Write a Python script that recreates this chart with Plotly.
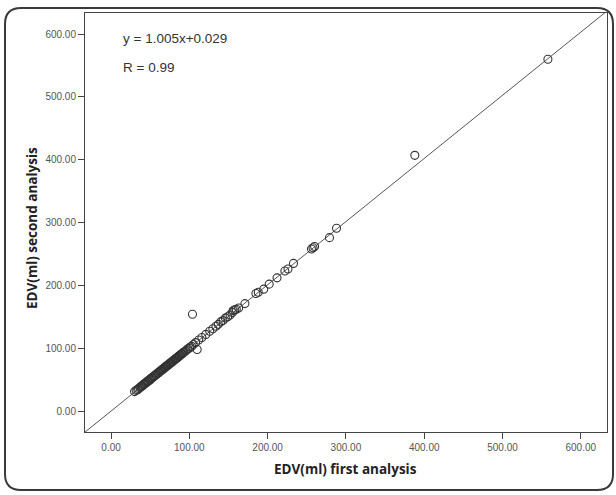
import plotly.graph_objects as go

# EDV measured twice (ml)
edv_first = [30, 32, 34, 35, 37, 38, 39, 40, 41, 42, 43, 44, 45, 46, 47, 48, 49, 50,
             51, 52, 53, 54, 55, 56, 57, 58, 59, 60, 61, 62, 63, 64, 65, 66, 67, 68,
             69, 70, 71, 72, 73, 74, 75, 76, 77, 78, 79, 80, 81, 82, 83, 84, 85, 86,
             87, 88, 89, 90, 91, 92, 93, 95, 96, 98, 100, 101, 103, 105, 108, 110,
             104, 112, 116, 121, 126, 130, 134, 137, 140, 143, 146, 149, 152, 155,
             156, 158, 160, 163, 171, 185, 188, 195, 202, 212, 222, 226, 233, 256,
             258, 260, 279, 288, 388, 558]
edv_second = [31, 33, 34, 36, 37, 39, 40, 40, 42, 43, 43, 45, 45, 47, 48, 48, 50, 50,
              52, 53, 53, 55, 56, 56, 58, 58, 60, 61, 61, 63, 64, 64, 66, 67, 67, 69,
              70, 70, 72, 73, 73, 75, 76, 76, 78, 79, 79, 81, 82, 82, 84, 85, 85, 87,
              88, 88, 90, 91, 91, 93, 94, 95, 97, 99, 100, 102, 103, 106, 109, 98,
              154, 113, 117, 122, 127, 131, 135, 138, 142, 144, 148, 150, 153, 157,
              160, 161, 162, 164, 171, 187, 189, 194, 202, 212, 223, 226, 235, 258,
              260, 262, 276, 291, 407, 560]

# regression line
slope = 1.005
intercept = 0.029
r_value = 0.99

tick_vals = [0, 100, 200, 300, 400, 500, 600]
tick_text = ["0.00", "100.00", "200.00", "300.00", "400.00", "500.00", "600.00"]

axis_range = [-33.3, 633.5]

W, H = 616, 495
ML, MR, MT, MB = 85, 9, 13, 63
PW, PH = W - ML - MR, H - MT - MB


def px(x):
    return (x - ML) / PW


def py(y):
    return (H - MB - y) / PH


fig = go.Figure()

line_x = list(axis_range)
line_y = [slope * v + intercept for v in line_x]
fig.add_trace(go.Scatter(
    x=line_x, y=line_y, mode="lines",
    line=dict(color="#555555", width=1), hoverinfo="skip", showlegend=False))

fig.add_trace(go.Scatter(
    x=edv_first, y=edv_second, mode="markers",
    marker=dict(symbol="circle-open", size=8, color="#333333",
                line=dict(width=1.1, color="#333333")),
    showlegend=False))

axis_common = dict(
    range=axis_range,
    tickvals=tick_vals, ticktext=tick_text,
    tickfont=dict(family="Liberation Sans, Arial", size=10, color="#555555"),
    ticks="outside", ticklen=6, tickcolor="#444444", tickwidth=1,
    showgrid=False, zeroline=False, showline=True, linecolor="#444444",
    linewidth=1, mirror=True,
)
fig.update_xaxes(**axis_common)
fig.update_yaxes(**axis_common)

# rounded outer frame
x0, x1 = px(5), px(613)
y0, y1 = py(490), py(8)
rx, ry = 16 / PW, 16 / PH
frame = (f"M {x0 + rx},{y1} L {x1 - rx},{y1} Q {x1},{y1} {x1},{y1 - ry} "
         f"L {x1},{y0 + ry} Q {x1},{y0} {x1 - rx},{y0} "
         f"L {x0 + rx},{y0} Q {x0},{y0} {x0},{y0 + ry} "
         f"L {x0},{y1 - ry} Q {x0},{y1} {x0 + rx},{y1} Z")
fig.add_shape(type="path", path=frame, xref="paper", yref="paper",
              line=dict(color="#3a3a3a", width=2), layer="below")

title_font = dict(family="Open Sans", size=13.5, color="#222222")
fig.add_annotation(text="<b>EDV(ml) first analysis</b>", xref="paper", yref="paper",
                   x=px(345), y=py(469), showarrow=False, font=title_font,
                   xanchor="center", yanchor="middle")
fig.add_annotation(text="<b>EDV(ml) second analysis</b>", xref="paper", yref="paper",
                   x=px(32), y=py(228), showarrow=False, font=title_font,
                   textangle=-90, xanchor="center", yanchor="middle")

eq_font = dict(family="Liberation Sans, Arial", size=13.5, color="#333333")
fig.add_annotation(text=f"y = {slope:.3f}x+{intercept:.3f}", xref="paper", yref="paper",
                   x=px(121), y=py(39), showarrow=False, font=eq_font,
                   xanchor="left", yanchor="middle")
fig.add_annotation(text=f"R = {r_value:.2f}", xref="paper", yref="paper",
                   x=px(121), y=py(67), showarrow=False, font=eq_font,
                   xanchor="left", yanchor="middle")

fig.update_layout(
    width=W, height=H,
    margin=dict(l=ML, r=MR, t=MT, b=MB),
    paper_bgcolor="white", plot_bgcolor="white",
)

fig.write_html("out.html")
